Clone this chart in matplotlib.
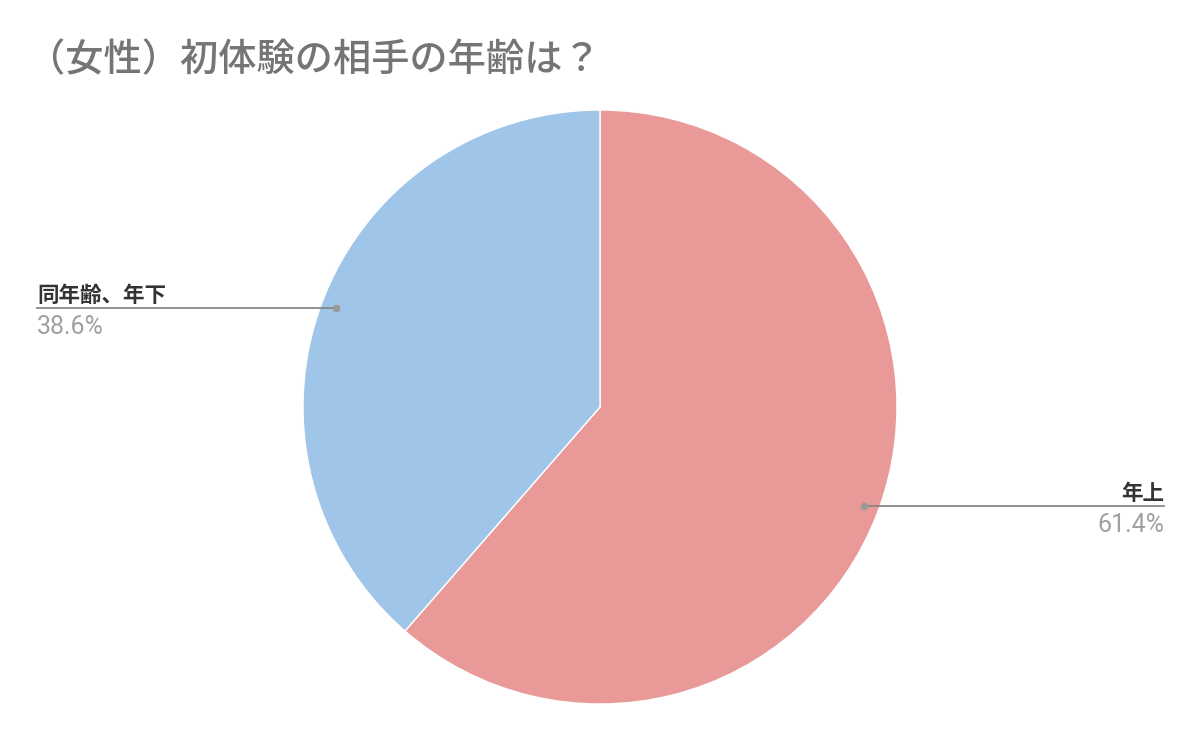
import numpy as np
import matplotlib.pyplot as plt

plt.rcParams['font.family'] = ['Noto Sans CJK JP', 'DejaVu Sans']

title = "（女性）初体験の相手の年齢は？"
labels = ["年上", "同年齢、年下"]
values = [61.4, 38.6]
colors = ["#ea9999", "#9fc5e8"]

W, H = 1200, 742
fig = plt.figure(figsize=(W / 100, H / 100), dpi=100)

# pie axes placed in pixels: centre (600, 407), radius 297
cx, cy, r = 600, 407, 297
ax = fig.add_axes([(cx - r) / W, (H - cy - r) / H, 2 * r / W, 2 * r / H])
wedges, _ = ax.pie(values, colors=colors, startangle=90, counterclock=False,
                   wedgeprops=dict(edgecolor="white", linewidth=1))
ax.set_xlim(-1, 1)
ax.set_ylim(-1, 1)
ax.set_aspect("equal")

px = 1 / r  # one pixel in data units

# leader lines + labels
for w, lab, val in zip(wedges, labels, values):
    mid = np.deg2rad((w.theta1 + w.theta2) / 2)
    x0, y0 = 0.95 * np.cos(mid), 0.95 * np.sin(mid)
    if x0 < 0:
        x_end = (37 - cx) * px
        ha = "left"
    else:
        x_end = (1164 - cx) * px
        ha = "right"
    ax.plot([x0, x_end], [y0, y0], color="#888888", lw=1.3, clip_on=False)
    ax.plot([x0], [y0], "o", ms=4.5, color="#999999", clip_on=False)
    ax.text(x_end, y0 + 2 * px, lab, ha=ha, va="bottom", fontsize=15.5,
            fontweight="bold", color="#333333", clip_on=False)
    ax.text(x_end, y0 - 7 * px, f"{val:.1f}%", ha=ha, va="top", fontsize=18,
            color="#a0a0a0", family=["Roboto", "DejaVu Sans"], clip_on=False)

fig.text(27 / W, 1 - 60 / H, title, ha="left", va="center", fontsize=27.5,
         fontweight="medium", color="#757575")

fig.savefig("out.png", dpi=100, facecolor="white")
